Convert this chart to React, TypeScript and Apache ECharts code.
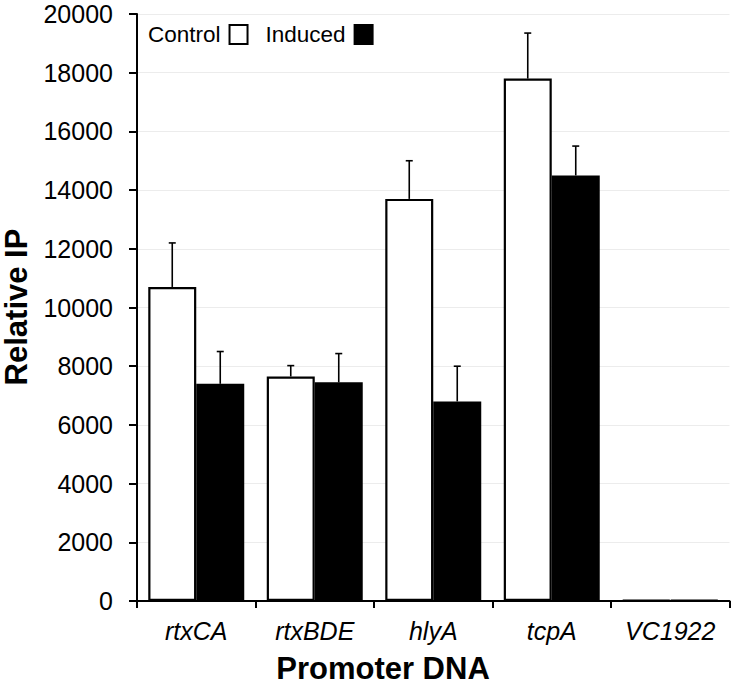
import React, { useEffect, useRef } from "react";
import * as echarts from "echarts";

const categories = ["rtxCA", "rtxBDE", "hlyA", "tcpA", "VC1922"];
const controlValues = [10700, 7650, 13700, 17800, 30];
const controlErrors = [1500, 370, 1300, 1550, 0];
const inducedValues = [7400, 7450, 6800, 14500, 30];
const inducedErrors = [1100, 980, 1200, 1000, 0];
const yTicks = { min: 0, max: 20000, interval: 2000 };

const FONT = "Liberation Sans";
const BAR_FRAC = 0.405;

function errorSeries(name: string, values: number[], errors: number[], side: number) {
  return {
    type: "custom",
    name: name + " error",
    z: 5,
    silent: true,
    data: values.map((v, i) => [i, v, errors[i]]),
    renderItem: (params: any, api: any) => {
      const idx = api.value(0);
      const v = api.value(1);
      const e = api.value(2);
      if (!e) return null;
      const band = api.size([1, 0])[0];
      const barW = band * BAR_FRAC;
      const base = api.coord([idx, v]);
      const top = api.coord([idx, v + e]);
      const x = base[0] + side * barW / 2;
      const style = { stroke: "#000", lineWidth: 1.6 };
      return {
        type: "group",
        children: [
          { type: "line", shape: { x1: x, y1: base[1], x2: x, y2: top[1] }, style },
          { type: "line", shape: { x1: x - 3.5, y1: top[1], x2: x + 3.5, y2: top[1] }, style },
        ],
      };
    },
  };
}

export default function App() {
  const ref = useRef<HTMLDivElement>(null);
  useEffect(() => {
    document.body.style.margin = "0";
    const chart = echarts.init(ref.current!, null, { renderer: "svg" });
    chart.setOption({
      animation: false,
      backgroundColor: "#fff",
      textStyle: { fontFamily: FONT },
      grid: { left: 137, right: 3.5, top: 14, bottom: 83, containLabel: false },
      legend: {
        data: ["Control", "Induced"],
        left: 143,
        top: 18,
        align: "right",
        icon: "rect",
        itemWidth: 18,
        itemHeight: 19,
        itemGap: 17,
        textStyle: { fontSize: 22.5, color: "#000", fontFamily: FONT, padding: [0, 4, 0, 0] },
      },
      xAxis: {
        type: "category",
        data: categories,
        axisLine: { lineStyle: { color: "#000", width: 2 } },
        axisTick: { show: true, length: 7, lineStyle: { color: "#000", width: 2 } },
        axisLabel: {
          fontSize: 25,
          fontStyle: "italic",
          color: "#000",
          fontFamily: FONT,
          margin: 17,
        },
      },
      yAxis: {
        type: "value",
        min: yTicks.min,
        max: yTicks.max,
        interval: yTicks.interval,
        axisLine: { show: true, lineStyle: { color: "#000", width: 2 } },
        axisTick: { show: true, length: 8, lineStyle: { color: "#000", width: 2 } },
        axisLabel: {
          fontSize: 25,
          color: "#000",
          fontFamily: FONT,
          margin: 24,
          formatter: (v: number) => String(v),
        },
        splitLine: { show: true, lineStyle: { color: "#ececec", width: 1 } },
      },
      series: [
        {
          type: "bar",
          name: "Control",
          data: controlValues,
          barWidth: BAR_FRAC * 100 + "%",
          barGap: "0%",
          itemStyle: { color: "#fff", borderColor: "#000", borderWidth: 2.2 },
        },
        {
          type: "bar",
          name: "Induced",
          data: inducedValues,
          barWidth: BAR_FRAC * 100 + "%",
          barGap: "0%",
          itemStyle: { color: "#000", borderColor: "#000", borderWidth: 2.2 },
        },
        errorSeries("Control", controlValues, controlErrors, -1),
        errorSeries("Induced", inducedValues, inducedErrors, 1),
      ],
      graphic: [
        {
          type: "text",
          x: 16,
          y: 307,
          rotation: Math.PI / 2,
          style: {
            text: "Relative IP",
            fontSize: 31,
            fontWeight: "bold",
            fontFamily: FONT,
            fill: "#000",
            align: "center",
            verticalAlign: "middle",
          },
        },
        {
          type: "text",
          x: 383,
          y: 668,
          style: {
            text: "Promoter DNA",
            fontSize: 31,
            fontWeight: "bold",
            fontFamily: FONT,
            fill: "#000",
            align: "center",
            verticalAlign: "middle",
          },
        },
      ],
    });
    return () => chart.dispose();
  }, []);
  return <div ref={ref} style={{ width: 733, height: 684 }} />;
}
